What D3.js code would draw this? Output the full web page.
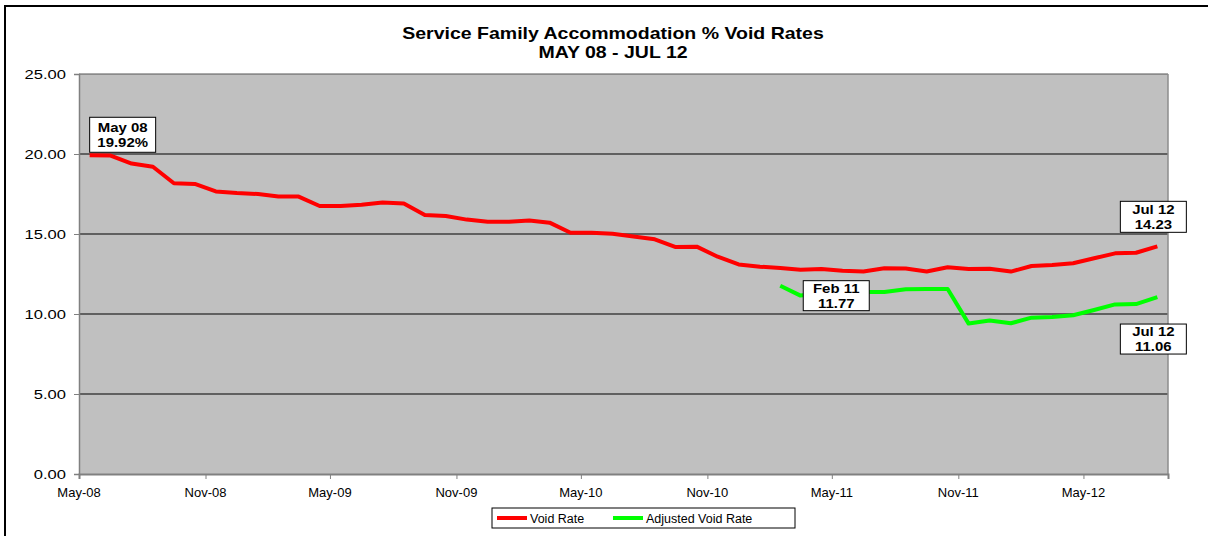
<!DOCTYPE html>
<html>
<head>
<meta charset="utf-8">
<script src="https://cdn.jsdelivr.net/npm/d3@7"></script>
<style>
  body { margin: 0; background: #fff; }
  text { font-family: Arial, "Liberation Sans", sans-serif; }
</style>
</head>
<body>
<svg id="chart" width="1208" height="536"></svg>
<script>
// monthly series, May 08 onwards
let first_month = new Date(2008, 4, 1),
    axis_end = new Date(2012, 8, 1);

let void_rate = [
    19.92, 19.90, 19.40, 19.20, 18.17, 18.13, 17.66, 17.56, 17.50, 17.34,
    17.34, 16.75, 16.75, 16.83, 16.97, 16.91, 16.19, 16.13, 15.90, 15.76,
    15.76, 15.84, 15.71, 15.08, 15.08, 15.01, 14.85, 14.67, 14.18, 14.21,
    13.58, 13.10, 12.96, 12.88, 12.77, 12.81, 12.70, 12.66, 12.86, 12.85,
    12.66, 12.92, 12.81, 12.83, 12.65, 13.00, 13.06, 13.17, 13.48, 13.79,
    13.83, 14.23
];

// adjusted rate starts Feb 11
let adjusted_start = 33;
let adjusted_rate = [
    11.77, 11.15, 11.30, 11.38, 11.38, 11.38, 11.54, 11.56, 11.56, 9.40,
    9.60, 9.42, 9.77, 9.81, 9.92, 10.25, 10.60, 10.62, 11.06
];

let y_ticks = [0, 5, 10, 15, 20, 25];

let callouts = [
    {series: "void", index: 0, lines: ["May 08", "19.92%"], pos: "above-right"},
    {series: "void", index: 51, lines: ["Jul 12", "14.23"], pos: "above"},
    {series: "adjusted", index: 33, lines: ["Feb 11", "11.77"], pos: "right"},
    {series: "adjusted", index: 51, lines: ["Jul 12", "11.06"], pos: "below"}
];

let legend_items = [
    {name: "Void Rate", color: "#ff0000"},
    {name: "Adjusted Void Rate", color: "#00ff00"}
];

let margins = {left: 79, right: 1168, top: 74, bottom: 474};

let svg = d3.select("#chart");

// helper: stretched text like the pasted excel picture
function stretched_text(g, x, y, str, size, sx, opts) {
    opts = opts || {};
    return g.append("text")
        .attr("transform", `translate(${x},${y}) scale(${sx},1)`)
        .attr("text-anchor", opts.anchor || "middle")
        .attr("font-size", size)
        .attr("font-weight", opts.bold ? "bold" : "normal")
        .attr("fill", "#000")
        .text(str);
}

let x = d3.scaleTime()
    .domain([first_month, axis_end])
    .range([margins.left, margins.right]);

let y = d3.scaleLinear()
    .domain([0, 25])
    .range([margins.bottom, margins.top]);

// each point sits in the middle of its month
function month_x(i) {
    let a = d3.timeMonth.offset(first_month, i),
        b = d3.timeMonth.offset(first_month, i + 1);
    return (x(a) + x(b)) / 2;
}

// outer chart frame
svg.append("rect")
    .attr("x", 5).attr("y", 6)
    .attr("width", 1230).attr("height", 560)
    .attr("fill", "#fff")
    .attr("stroke", "#000")
    .attr("stroke-width", 2);

// plot area
svg.append("rect")
    .attr("x", margins.left).attr("y", margins.top)
    .attr("width", margins.right - margins.left)
    .attr("height", margins.bottom - margins.top)
    .attr("fill", "#c0c0c0");

// gridlines
svg.append("g")
    .selectAll("line")
    .data(y_ticks.filter(d => d > 0))
    .enter()
    .append("line")
    .attr("x1", margins.left).attr("x2", margins.right)
    .attr("y1", d => y(d)).attr("y2", d => y(d))
    .attr("stroke", d => d == 25 ? "#555" : "#000")
    .attr("stroke-width", 1);

// right edge of plot
svg.append("line")
    .attr("x1", margins.right).attr("x2", margins.right)
    .attr("y1", margins.top).attr("y2", margins.bottom)
    .attr("stroke", "#8c8c8c").attr("stroke-width", 1.5);

// y axis
let y_axis = d3.axisLeft(y)
    .tickValues(y_ticks)
    .tickSize(5)
    .tickFormat("");
let yg = svg.append("g")
    .attr("transform", `translate(${margins.left},0)`)
    .call(y_axis);
yg.select(".domain").attr("stroke", "#808080").attr("stroke-width", 1.5);
yg.selectAll(".tick line").attr("stroke", "#808080");
y_ticks.forEach(function (d) {
    stretched_text(svg, 66, y(d) + 4.5, d3.format(".2f")(d), 12, 1.38, {anchor: "end"});
});

// x axis, a tick every 6 months from May 08
let x_ticks = d3.range(0, 52, 6).map(k => d3.timeMonth.offset(first_month, k));
let x_axis = d3.axisBottom(x)
    .tickValues(x_ticks)
    .tickSize(5)
    .tickFormat("");
let xg = svg.append("g")
    .attr("transform", `translate(0,${margins.bottom})`)
    .call(x_axis);
xg.select(".domain").attr("stroke", "#808080").attr("stroke-width", 2);
xg.selectAll(".tick line").attr("stroke", "#808080");
x_ticks.forEach(function (d) {
    stretched_text(svg, x(d), 497, d3.timeFormat("%b-%y")(d), 13, 1.0);
});

// series
let line_gen = d3.line()
    .x(d => month_x(d.i))
    .y(d => y(d.v));

let void_pts = void_rate.map((v, i) => ({i: i, v: v})),
    adj_pts = adjusted_rate.map((v, i) => ({i: i + adjusted_start, v: v}));

svg.append("path")
    .attr("d", line_gen(void_pts))
    .attr("fill", "none")
    .attr("stroke", "#ff0000")
    .attr("stroke-width", 4)
    .attr("stroke-linejoin", "round");

svg.append("path")
    .attr("d", line_gen(adj_pts))
    .attr("fill", "none")
    .attr("stroke", "#00ff00")
    .attr("stroke-width", 4)
    .attr("stroke-linejoin", "round");

// callout boxes
let box_w = 66, box_h = 32;
callouts.forEach(function (c) {
    let v = c.series == "void" ? void_rate[c.index] : adjusted_rate[c.index - adjusted_start],
        px = month_x(c.index),
        py = y(v),
        bx, by;
    if (c.pos == "above-right") { bx = px; by = py - 38; box_h = 35; }
    else if (c.pos == "above") { bx = px - 37; by = py - 45; box_h = 31; }
    else if (c.pos == "right") { bx = px + 23; by = py - 5; box_h = 30; }
    else { bx = px - 37; by = py + 27; box_h = 30; }
    let g = svg.append("g");
    g.append("rect")
        .attr("x", bx).attr("y", by)
        .attr("width", box_w).attr("height", box_h)
        .attr("fill", "#fff")
        .attr("stroke", "#000")
        .attr("stroke-width", 1);
    stretched_text(g, bx + box_w / 2, by + box_h / 2 - 3, c.lines[0], 13, 1.15, {bold: true});
    stretched_text(g, bx + box_w / 2, by + box_h / 2 + 12, c.lines[1], 13, 1.15, {bold: true});
});

// title
stretched_text(svg, 613, 39, "Service Family Accommodation % Void Rates", 16, 1.22, {bold: true});
stretched_text(svg, 613, 58, "MAY 08 - JUL 12", 16, 1.22, {bold: true});

// legend
let lg = svg.append("g");
lg.append("rect")
    .attr("x", 492).attr("y", 508)
    .attr("width", 303).attr("height", 20)
    .attr("fill", "#fff")
    .attr("stroke", "#000")
    .attr("stroke-width", 1);
let legend_x = [497, 613];
legend_items.forEach(function (d, i) {
    lg.append("line")
        .attr("x1", legend_x[i]).attr("x2", legend_x[i] + 30)
        .attr("y1", 518).attr("y2", 518)
        .attr("stroke", d.color)
        .attr("stroke-width", 4);
    stretched_text(lg, legend_x[i] + 33, 523, d.name, 12.5, 1.0, {anchor: "start"});
});
</script>
</body>
</html>
